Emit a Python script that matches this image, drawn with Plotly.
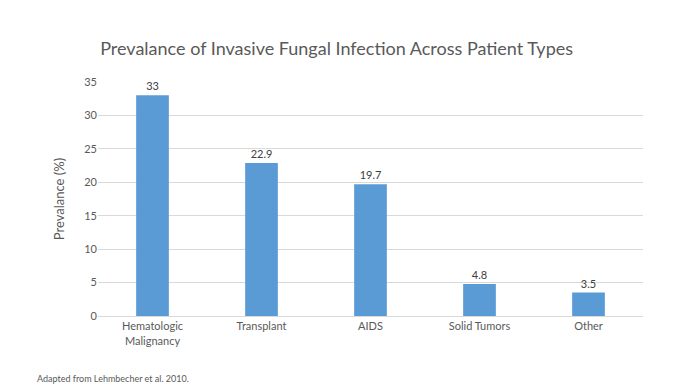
import plotly.graph_objects as go

categories = ["Hematologic<br>Malignancy", "Transplant", "AIDS", "Solid Tumors", "Other"]
values = [33, 22.9, 19.7, 4.8, 3.5]
value_labels = ["33", "22.9", "19.7", "4.8", "3.5"]
y_ticks = [0, 5, 10, 15, 20, 25, 30, 35]

FONT = "Lato, 'Open Sans', sans-serif"
GRAY = "#595959"

fig = go.Figure(go.Bar(
    x=categories, y=values,
    marker=dict(color="#5B9BD5", line=dict(width=0)),
    text=value_labels, textposition="outside", cliponaxis=False,
    textfont=dict(family=FONT, size=11, color="#404040"),
))

fig.update_layout(
    width=687, height=386,
    margin=dict(l=98, r=44, t=82, b=70),
    paper_bgcolor="white", plot_bgcolor="white",
    bargap=0.7,
    showlegend=False,
    title=dict(text="Prevalance of Invasive Fungal Infection Across Patient Types",
               x=0.49, xanchor="center", y=0.875, yanchor="middle",
               font=dict(family=FONT, size=18, color=GRAY)),
    font=dict(family=FONT, color=GRAY),
)
fig.update_xaxes(showline=True, linecolor="#D9D9D9", linewidth=1, ticks="",
                 tickfont=dict(size=11, color=GRAY), fixedrange=True)
fig.update_yaxes(range=[0, 35], tickvals=y_ticks, showgrid=True, gridcolor="#D9D9D9",
                 gridwidth=1, zeroline=False, ticks="", ticklen=0,
                 tickfont=dict(size=11, color=GRAY), fixedrange=True,
                 title=dict(text="Prevalance (%)", font=dict(size=13, color=GRAY), standoff=16))
fig.add_annotation(text="Adapted from Lehmbecher et al. 2010.", xref="paper", yref="paper",
                   x=-98/545 + 35/545, y=-62/234, xanchor="left", yanchor="middle",
                   showarrow=False, font=dict(family=FONT, size=9, color=GRAY))

fig.write_html("out.html", config={"displayModeBar": False},
               post_script="document.body.style.margin='0';document.body.style.overflow='hidden';")
